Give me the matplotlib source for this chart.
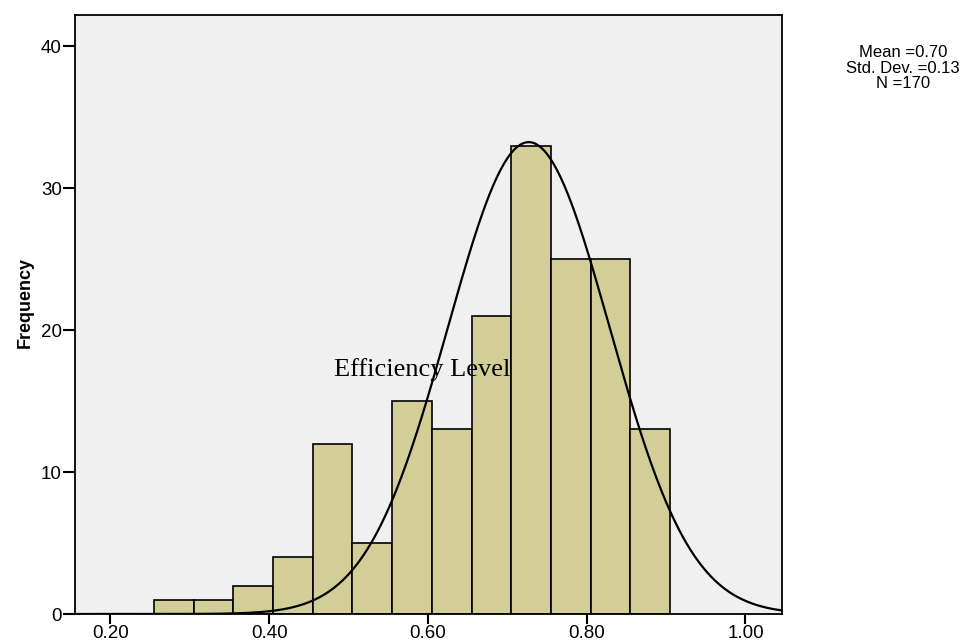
import numpy as np
import matplotlib.pyplot as plt

# histogram bins (left edges) and counts
bin_edges = [0.255, 0.305, 0.355, 0.405, 0.455, 0.505, 0.555, 0.605,
             0.655, 0.705, 0.755, 0.805, 0.855, 0.905]
counts = [1, 1, 2, 4, 12, 5, 15, 13, 21, 33, 25, 25, 13]

# normal curve as drawn by the chart
curve_mean = 0.727
curve_sd = 0.102
n_total = 170

x_ticks = [0.20, 0.40, 0.60, 0.80, 1.00]
y_ticks = [0, 10, 20, 30, 40]

fig = plt.figure(figsize=(9.72, 6.42), dpi=100)
ax = fig.add_axes([0.0772, 0.0436, 0.7273, 0.933])
ax.set_facecolor('#f0f0f0')

edges = np.array(bin_edges)
widths = np.diff(edges)
ax.bar(edges[:-1], counts, width=widths, align='edge',
       color='#d3ce98', edgecolor='black', linewidth=1.2, zorder=2)

xs = np.linspace(0.1555, 1.046, 400)
ys = n_total * widths[0] / (curve_sd * np.sqrt(2 * np.pi)) * \
    np.exp(-(xs - curve_mean) ** 2 / (2 * curve_sd ** 2))
ax.plot(xs, ys, color='black', linewidth=1.6, zorder=3)

ax.set_xlim(0.1555, 1.046)
ax.set_ylim(0, 42.2)
ax.set_xticks(x_ticks)
ax.set_xticklabels([f'{t:.2f}' for t in x_ticks])
ax.set_yticks(y_ticks)
ax.tick_params(direction='out', width=1.5, labelsize=13.5, colors='black',
               pad=1)
ax.tick_params(axis='y', length=8.5)
ax.tick_params(axis='x', length=7)
for lab in ax.get_xticklabels() + ax.get_yticklabels():
    lab.set_family('Liberation Sans')
for s in ax.spines.values():
    s.set_linewidth(1.3)

ax.set_ylabel('Frequency', family='Liberation Sans', fontweight='bold',
              fontsize=13)
ax.yaxis.set_label_coords(-0.058, 0.52)

ax.text(0.593, 17.25, 'Efficiency Level', family='Liberation Serif',
        fontsize=19, ha='center', va='center', zorder=4)

fig.text(0.929, 0.894, 'Mean =0.70\nStd. Dev. =0.13\nN =170',
         family='Liberation Sans', fontsize=12, ha='center', va='center',
         linespacing=1.02)

fig.savefig('out.png', dpi=100)
